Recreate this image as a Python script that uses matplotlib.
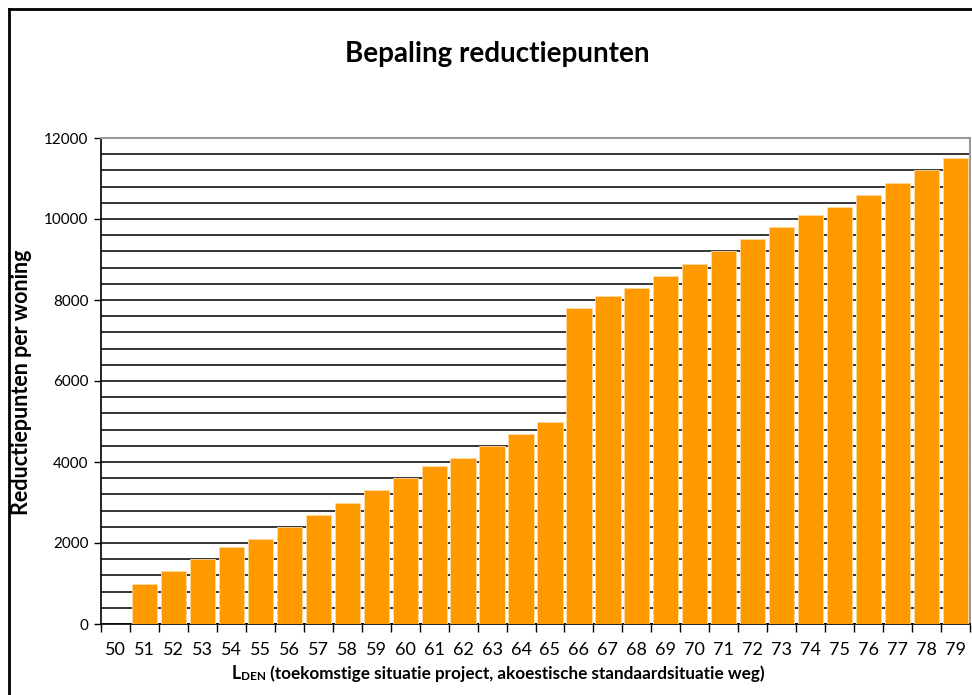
import numpy as np
import matplotlib
matplotlib.use('Agg')
import matplotlib.pyplot as plt

plt.rcParams['font.family'] = ['Lato', 'DejaVu Sans']

# L_DEN categories and reduction points per dwelling
lden = list(range(50, 80))
punten = [0, 1000, 1300, 1600, 1900, 2100, 2400, 2700, 3000, 3300,
          3600, 3900, 4100, 4400, 4700, 5000, 7800, 8100, 8300, 8600,
          8900, 9200, 9500, 9800, 10100, 10300, 10600, 10900, 11200, 11500]
yticks = [0, 2000, 4000, 6000, 8000, 10000, 12000]

fig = plt.figure(figsize=(9.72, 6.95), dpi=100)
ax = fig.add_axes([101/972, 71/695, 869/972, 486/695])

index = np.arange(len(lden))
ax.bar(index, punten, 0.87, color='#FF9900', edgecolor='#FFD9A0', linewidth=0.6, zorder=3)

ax.set_xlim(-0.5, len(lden) - 0.5)
ax.set_ylim(0, 12000)
ax.set_yticks(yticks)
ax.set_yticks(np.arange(0, 12001, 400), minor=True)
ax.yaxis.grid(True, which='both', color='black', linewidth=1.1, zorder=0)
ax.tick_params(axis='y', which='minor', length=0)
ax.tick_params(axis='y', which='major', length=5, width=1, labelsize=11, pad=4)

ax.set_xticks(index)
ax.set_xticklabels([str(v) for v in lden])
ax.set_xticks(np.arange(-0.5, len(lden)), minor=True)
ax.tick_params(axis='x', which='major', length=0, labelsize=13, pad=13)
ax.tick_params(axis='x', which='minor', length=6, width=1)

for s in ['top', 'right']:
  ax.spines[s].set_color('#999999')
  ax.spines[s].set_linewidth(1.5)
for s in ['left', 'bottom']:
  ax.spines[s].set_color('black')
  ax.spines[s].set_linewidth(1.2)
ax.set_axisbelow(True)

fig.text(497/972, 1 - 54/695, 'Bepaling reductiepunten', ha='center', va='center',
         fontsize=20, fontweight='bold')
fig.text(22/972, 1 - 382/695, 'Reductiepunten per woning', ha='center', va='center',
         rotation=90, fontsize=15.5, fontweight='bold')

# x label with small caps "DEN"
t1 = fig.text(232/972, 1 - 679/695, 'L', ha='left', va='baseline', fontsize=12.8, fontweight='bold')
a2 = ax.annotate('DEN', xy=(1, 0), xycoords=t1, va='bottom', ha='left',
                 fontsize=8.5, fontweight='bold', annotation_clip=False)
a3 = ax.annotate(' (toekomstige situatie project, akoestische standaardsituatie weg)',
                 xy=(1, 0), xycoords=a2, va='bottom', ha='left',
                 fontsize=12.3, fontweight='bold', annotation_clip=False)

# outer chart border
fig.add_artist(plt.Line2D([8.5/972, 8.5/972], [0, 1 - 8.5/695], color='black', linewidth=2))
fig.add_artist(plt.Line2D([8.5/972, 1], [1 - 8.5/695, 1 - 8.5/695], color='black', linewidth=2))

plt.savefig('out.png', dpi=100)
